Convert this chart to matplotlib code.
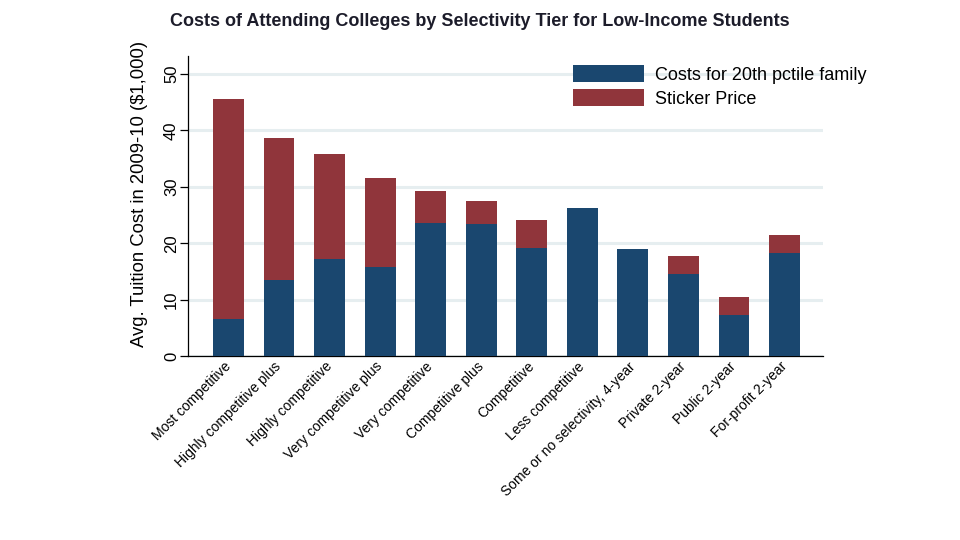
import numpy as np
import matplotlib
matplotlib.use("Agg")
from matplotlib import pyplot as plt

plt.rcParams['font.family'] = ['Liberation Sans', 'DejaVu Sans']

# tiers along the x axis
tiers = ["Most competitive", "Highly competitive plus", "Highly competitive",
         "Very competitive plus", "Very competitive", "Competitive plus",
         "Competitive", "Less competitive", "Some or no selectivity, 4-year",
         "Private 2-year", "Public 2-year", "For-profit 2-year"]

# values, $1,000
costs_20th = [6.6, 13.5, 17.2, 15.8, 23.6, 23.4, 19.1, 26.2, 19.0, 14.5, 7.3, 18.3]
sticker = [45.6, 38.65, 35.8, 31.6, 29.3, 27.5, 24.1, np.nan, np.nan, 17.7, 10.5, 21.5]

navy = "#1a476f"
maroon = "#90353b"

fig = plt.figure(figsize=(9.6, 5.4), dpi=100)
ax = fig.add_axes([188/960, 1 - 356/540, (823-188)/960, (356-56)/540])

x = np.arange(len(tiers))
# sticker price drawn behind, 20th pctile costs overlaid in front
ax.bar(x, sticker, width=0.61, color=maroon, zorder=2, label="Sticker Price")
ax.bar(x, costs_20th, width=0.61, color=navy, zorder=3, label="Costs for 20th pctile family")

ax.set_xlim(-0.8, 11.76)
ax.set_ylim(0, 53.2)
ax.set_yticks([0, 10, 20, 30, 40, 50])
ax.yaxis.grid(True, color="#e6eef0", linewidth=2.2, zorder=0)
ax.set_axisbelow(True)

for s in ["top", "right"]:
    ax.spines[s].set_visible(False)
ax.spines["left"].set_linewidth(0.9)
ax.spines["bottom"].set_linewidth(0.9)

ax.tick_params(axis="y", length=5.5, width=0.9, labelsize=12, pad=1)
for lab in ax.get_yticklabels():
    lab.set_rotation(90)
    lab.set_va("center")
ax.tick_params(axis="x", length=0, pad=6)
ax.set_xticks(x)
ax.set_xticklabels(tiers, rotation=45, ha="right", va="center",
                   rotation_mode="anchor", fontsize=10)

ax.set_ylabel("Avg. Tuition Cost in 2009-10 ($1,000)", fontsize=13.3)
ax.yaxis.set_label_coords(-0.063, 0.54)

fig.text(480/960, 1 - 21/540, "Costs of Attending Colleges by Selectivity Tier for Low-Income Students",
         ha="center", va="center", fontsize=13, fontweight="bold", color="#1c1c2a")

handles, labels = ax.get_legend_handles_labels()
ax.legend(handles[::-1], labels[::-1], loc="upper left",
          bbox_to_anchor=(559/960, 1 - 51/540), bbox_transform=fig.transFigure,
          frameon=False, fontsize=13, handlelength=3.9, handleheight=1.05,
          labelspacing=0.3, handletextpad=0.6, borderpad=0.3)

fig.savefig("out.png", dpi=100)
